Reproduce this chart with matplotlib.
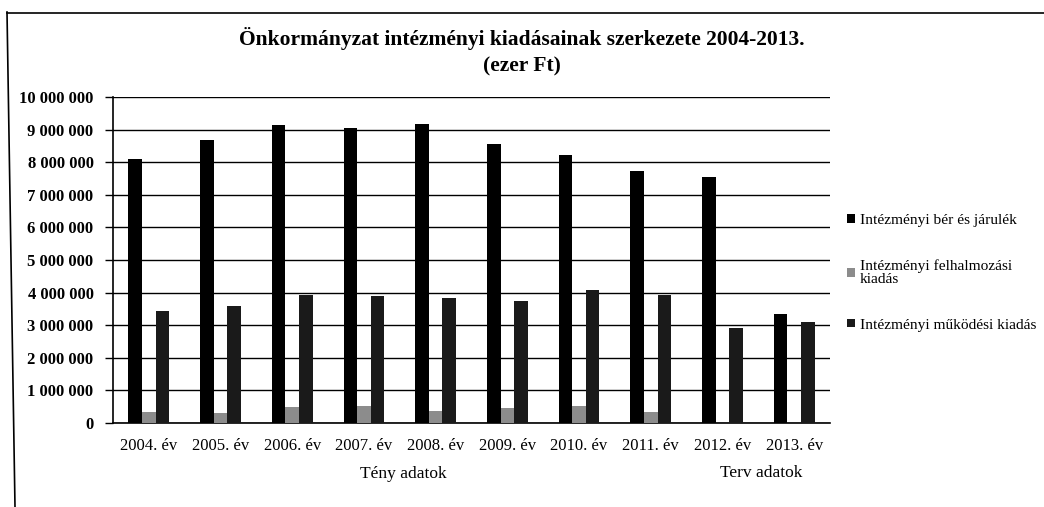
import matplotlib
matplotlib.use("Agg")
import matplotlib.pyplot as plt
from matplotlib.lines import Line2D
from matplotlib.ticker import FuncFormatter
import numpy as np

categories = ["2004. év", "2005. év", "2006. év", "2007. év", "2008. év",
              "2009. év", "2010. év", "2011. év", "2012. év", "2013. év"]
ber = [8090000, 8690000, 9130000, 9060000, 9180000, 8550000, 8210000, 7730000, 7540000, 3350000]
felhalmozasi = [340000, 320000, 490000, 510000, 370000, 470000, 520000, 340000, 0, 0]
mukodesi = [3430000, 3580000, 3940000, 3890000, 3820000, 3730000, 4070000, 3940000, 2910000, 3090000]
series_names = ["Intézményi bér és járulék", "Intézményi felhalmozási\nkiadás", "Intézményi működési kiadás"]
colors = ["#000000", "#8c8c8c", "#1a1a1a"]
group_labels = ["Tény adatok", "Terv adatok"]

plt.rcParams['font.family'] = ['Liberation Serif', 'DejaVu Serif']

W, H = 1044, 507
fig = plt.figure(figsize=(W / 100, H / 100), dpi=100)
ax = fig.add_axes([113 / W, 1 - 423 / H, (830 - 113) / W, (423 - 97) / H])

x = np.arange(len(categories))
w = 0.19
for i, (vals, c, name) in enumerate(zip([ber, felhalmozasi, mukodesi], colors, series_names)):
    ax.bar(x + (i - 1) * w, vals, width=w, color=c, label=name, zorder=3)

ax.set_xlim(-0.5, len(categories) - 0.5)
ax.set_ylim(0, 10000000)
ax.set_yticks(np.arange(0, 10000001, 1000000))
ax.yaxis.set_major_formatter(FuncFormatter(lambda v, p: f"{int(v):,}".replace(",", " ")))
ax.grid(axis='y', color='black', linewidth=1.0, zorder=0)
ax.set_xticks(x)
ax.set_xticklabels(categories, fontsize=12)
ax.tick_params(axis='x', length=0, pad=11)
ax.tick_params(axis='y', length=6, width=1, labelsize=12, pad=8, direction='out')
for lab in ax.get_yticklabels():
    lab.set_fontweight('bold')
for s in ['top', 'right']:
    ax.spines[s].set_visible(False)
ax.spines['left'].set_linewidth(1.2)
ax.spines['bottom'].set_linewidth(1.2)

fig.text(522 / W, 1 - 39 / H, "Önkormányzat intézményi kiadásainak szerkezete 2004-2013.",
         ha='center', va='center', fontsize=15.5, fontweight='bold')
fig.text(522 / W, 1 - 66 / H, "(ezer Ft)", ha='center', va='center', fontsize=15.5, fontweight='bold')

fig.text(403 / W, 1 - 474 / H, group_labels[0], ha='center', va='center', fontsize=12.5)
fig.text(761 / W, 1 - 473 / H, group_labels[1], ha='center', va='center', fontsize=12.5)

leg = ax.legend(loc='upper left', bbox_to_anchor=(847 / W, 1 - 214 / H), bbox_transform=fig.transFigure,
                frameon=False, fontsize=11.1, handlelength=0.5, handleheight=0.5, handletextpad=0.35,
                labelspacing=2.1, borderaxespad=0, borderpad=0)
for t in leg.get_texts():
    t.set_linespacing(1.0)

fig.add_artist(Line2D([7 / W, 15 / W], [1 - 12 / H, 0], transform=fig.transFigure, color='black', linewidth=1.2))
fig.add_artist(Line2D([7 / W, 1], [1 - 13 / H, 1 - 13 / H], transform=fig.transFigure, color='black', linewidth=1.2))

fig.savefig("out.png", dpi=100)
